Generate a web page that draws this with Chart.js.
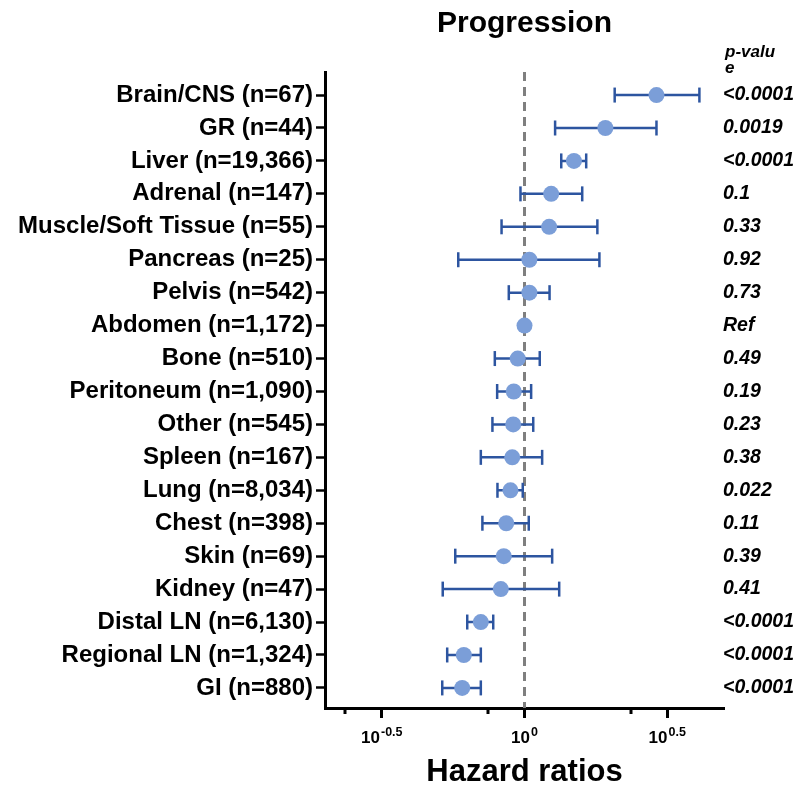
<!DOCTYPE html>
<html>
<head>
<meta charset="utf-8">
<script src="https://cdn.jsdelivr.net/npm/chart.js@4.4.0/dist/chart.umd.min.js"></script>
<style>
html,body{margin:0;padding:0;background:#fff;}
#wrap{width:798px;height:791px;position:relative;}
</style>
</head>
<body>
<div id="wrap"><canvas id="c" width="798" height="791"></canvas></div>
<script>
const categories = [
  'Brain/CNS (n=67)', 'GR (n=44)', 'Liver (n=19,366)', 'Adrenal (n=147)',
  'Muscle/Soft Tissue (n=55)', 'Pancreas (n=25)', 'Pelvis (n=542)',
  'Abdomen (n=1,172)', 'Bone (n=510)', 'Peritoneum (n=1,090)', 'Other (n=545)',
  'Spleen (n=167)', 'Lung (n=8,034)', 'Chest (n=398)', 'Skin (n=69)',
  'Kidney (n=47)', 'Distal LN (n=6,130)', 'Regional LN (n=1,324)', 'GI (n=880)'
];
const hazardRatios = [2.90, 1.92, 1.49, 1.24, 1.22, 1.04, 1.04, 1.00, 0.947, 0.917, 0.913,
                      0.906, 0.893, 0.863, 0.846, 0.826, 0.703, 0.613, 0.605];
const ciLower = [2.07, 1.28, 1.345, 0.968, 0.831, 0.586, 0.881, null, 0.787, 0.802, 0.772,
                 0.703, 0.804, 0.712, 0.572, 0.517, 0.630, 0.536, 0.515];
const ciUpper = [4.10, 2.90, 1.645, 1.593, 1.80, 1.83, 1.224, null, 1.131, 1.055, 1.073,
                 1.153, 0.986, 1.035, 1.25, 1.323, 0.777, 0.703, 0.703];
const pValues = ['<0.0001', '0.0019', '<0.0001', '0.1', '0.33', '0.92', '0.73', 'Ref', '0.49',
                 '0.19', '0.23', '0.38', '0.022', '0.11', '0.39', '0.41', '<0.0001', '<0.0001', '<0.0001'];
const xTickValues = [0.31623, 1, 3.16228];
const xTickExponents = ['-0.5', '0', '0.5'];
const xMinorTickValues = [0.235, 0.746, 2.36];
const refValue = 1;

const FONT = '"Liberation Sans", Arial, Helvetica, sans-serif';
const DOT = '#7B9ED8';
const BAR = '#2D55A0';

const barPts = [];
const capPts = [];
categories.forEach((c, i) => {
  if (ciLower[i] == null) return;
  barPts.push({x: ciLower[i], y: i}, {x: ciUpper[i], y: i}, {x: ciUpper[i], y: null});
  capPts.push({x: ciLower[i], y: i}, {x: ciUpper[i], y: i});
});
const dotPts = hazardRatios.map((v, i) => ({x: v, y: i}));

const overlay = {
  id: 'overlay',
  afterDraw(chart) {
    const ctx = chart.ctx;
    const xs = chart.scales.x, ys = chart.scales.y;
    ctx.save();
    ctx.fillStyle = '#000';
    // title
    ctx.font = 'bold 30px ' + FONT;
    ctx.textAlign = 'center';
    ctx.textBaseline = 'alphabetic';
    ctx.fillText('Progression', xs.getPixelForValue(refValue), 32);
    // p-value header
    ctx.font = 'italic bold 17px ' + FONT;
    ctx.textAlign = 'left';
    ctx.textBaseline = 'middle';
    ctx.fillText('p-valu', 725, 52);
    ctx.fillText('e', 725, 68);
    // p-values
    ctx.font = 'italic bold 19.5px ' + FONT;
    pValues.forEach((p, i) => {
      ctx.fillText(p, 723, ys.getPixelForValue(i));
    });
    // x tick labels with superscripts
    ctx.textBaseline = 'alphabetic';
    ctx.textAlign = 'left';
    xTickValues.forEach((v, i) => {
      const px = xs.getPixelForValue(v);
      ctx.font = 'bold 17px ' + FONT;
      const w1 = ctx.measureText('10').width;
      ctx.font = 'bold 12.5px ' + FONT;
      const w2 = ctx.measureText(xTickExponents[i]).width;
      const x0 = px - (w1 + 1 + w2) / 2;
      ctx.font = 'bold 17px ' + FONT;
      ctx.fillText('10', x0, 743);
      ctx.font = 'bold 12.5px ' + FONT;
      ctx.fillText(xTickExponents[i], x0 + w1 + 1, 736);
    });
    // minor ticks
    ctx.strokeStyle = '#000';
    ctx.lineWidth = 3;
    const yb = chart.chartArea.bottom;
    xMinorTickValues.forEach(v => {
      const px = Math.round(xs.getPixelForValue(v));
      ctx.beginPath();
      ctx.moveTo(px, yb);
      ctx.lineTo(px, yb + 6);
      ctx.stroke();
    });
    ctx.restore();
  }
};

new Chart(document.getElementById('c'), {
  type: 'scatter',
  data: {
    datasets: [
      {
        label: 'Hazard ratio',
        data: dotPts,
        pointRadius: 8,
        pointHoverRadius: 8,
        pointBackgroundColor: DOT,
        pointBorderWidth: 0,
        showLine: false,
        order: 0
      },
      {
        label: 'CI caps',
        data: capPts,
        pointStyle: 'line',
        rotation: 90,
        pointRadius: 7.5,
        pointHoverRadius: 7.5,
        pointBorderColor: BAR,
        pointBorderWidth: 2.5,
        showLine: false,
        order: 1
      },
      {
        label: 'CI',
        data: barPts,
        showLine: true,
        spanGaps: false,
        borderColor: BAR,
        borderWidth: 2.5,
        pointRadius: 0,
        order: 2
      },
      {
        label: 'Reference',
        data: [{x: refValue, y: -0.7}, {x: refValue, y: 18.61}],
        showLine: true,
        borderColor: '#7f7f7f',
        borderWidth: 3,
        borderDash: [9, 6],
        pointRadius: 0,
        order: 3
      }
    ]
  },
  options: {
    responsive: false,
    animation: false,
    devicePixelRatio: 1,
    layout: {padding: {top: 72, right: 74, left: 0, bottom: 0}},
    plugins: {legend: {display: false}, tooltip: {enabled: false}, title: {display: false}},
    scales: {
      x: {
        type: 'logarithmic',
        position: 'bottom',
        min: 0.2,
        max: 5,
        border: {display: true, color: '#000', width: 3},
        grid: {drawOnChartArea: false, drawTicks: true, tickLength: 10, tickWidth: 3, tickColor: '#000'},
        ticks: {autoSkip: false, maxRotation: 0, callback: () => ''},
        afterBuildTicks: s => { s.ticks = xTickValues.map(v => ({value: v})); },
        afterFit: s => { s.height = 83; },
        title: {display: true, text: 'Hazard ratios', color: '#000',
                font: {family: FONT, size: 31, weight: 'bold'}, padding: {top: 0, bottom: 0}}
      },
      y: {
        type: 'linear',
        reverse: true,
        min: -0.7,
        max: 18.61,
        border: {display: true, color: '#000', width: 3},
        grid: {drawOnChartArea: false, drawTicks: true, tickLength: 9, tickWidth: 2.5, tickColor: '#000'},
        ticks: {autoSkip: false, padding: 3, color: '#000',
                font: {family: FONT, size: 24, weight: 'bold'},
                callback: v => categories[v]},
        afterBuildTicks: s => { s.ticks = categories.map((c, i) => ({value: i})); },
        afterFit: s => { s.width = 325; }
      }
    }
  },
  plugins: [overlay]
});
</script>
</body>
</html>
